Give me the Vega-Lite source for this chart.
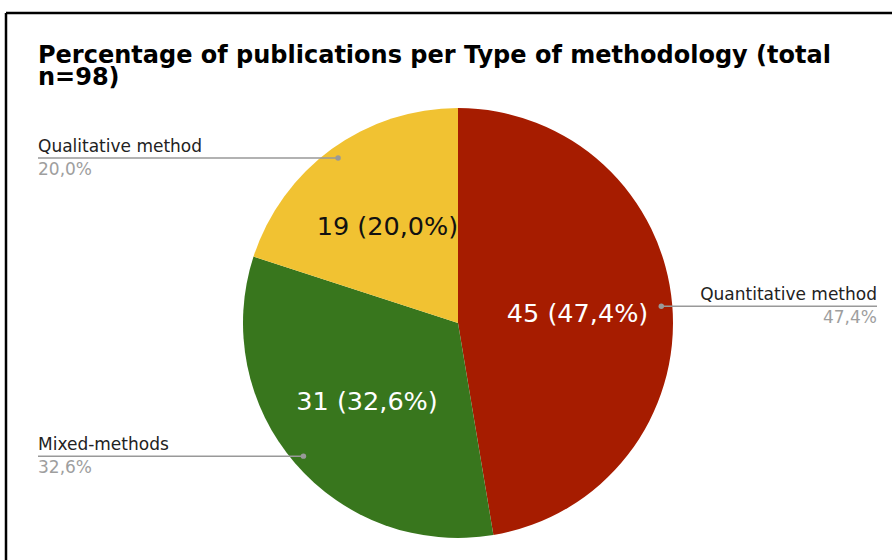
{
  "$schema": "https://vega.github.io/schema/vega-lite/v6.json",
  "width": 886,
  "height": 547,
  "autosize": {"type": "none"},
  "padding": {"left": 6, "top": 13, "right": 0, "bottom": 0},
  "background": "white",
  "config": {
    "font": "DejaVu Sans",
    "view": {"stroke": "#000000", "strokeWidth": 2.5, "strokeDash": [886, 1433, 547, 0]}
  },
  "title": {
    "text": ["Percentage of publications per Type of methodology (total", "n=98)"],
    "orient": "top",
    "anchor": "start",
    "frame": "group",
    "baseline": "top",
    "offset": -77,
    "dx": 32,
    "font": "DejaVu Sans",
    "fontSize": 24,
    "fontWeight": "bold",
    "color": "#000000",
    "lineHeight": 22
  },
  "data": {
    "values": [
      {"method": "Quantitative method", "count": 45},
      {"method": "Mixed-methods", "count": 31},
      {"method": "Qualitative method", "count": 19}
    ]
  },
  "transform": [
    {"joinaggregate": [{"op": "sum", "field": "count", "as": "total"}]},
    {"window": [{"op": "sum", "field": "count", "as": "cum"}], "sort": [{"field": "count", "order": "descending"}], "frame": [null, 0]},
    {"calculate": "(datum.cum - datum.count / 2) / datum.total * 2 * PI", "as": "mid"},
    {"calculate": "204 * sin(datum.mid)", "as": "px"},
    {"calculate": "204 * cos(datum.mid)", "as": "py"},
    {"calculate": "datum.px > 0 ? 419 : -420", "as": "ex"},
    {"calculate": "replace(format(datum.count / datum.total * 100, '.1f'), '.', ',') + '%'", "as": "pct"},
    {"calculate": "datum.count + ' (' + datum.pct + ')'", "as": "label"}
  ],
  "layer": [
    {
      "mark": {"type": "arc", "outerRadius": 215},
      "encoding": {
        "x": {"datum": 0, "type": "quantitative", "scale": {"domain": [-452, 434], "nice": false, "zero": false}, "axis": null},
        "y": {"datum": 0, "type": "quantitative", "scale": {"domain": [-237, 310], "nice": false, "zero": false}, "axis": null},
        "theta": {"field": "count", "type": "quantitative", "stack": true},
        "order": {"field": "count", "sort": "descending"},
        "color": {
          "field": "method",
          "type": "nominal",
          "scale": {"domain": ["Quantitative method", "Mixed-methods", "Qualitative method"], "range": ["#a61c00", "#38761d", "#f1c232"]},
          "legend": null
        }
      }
    },
    {
      "mark": {"type": "text", "radius": 120, "fontSize": 25.5, "align": "center", "baseline": "middle", "font": "DejaVu Sans", "dy": 1},
      "encoding": {
        "x": {"datum": 0, "type": "quantitative"},
        "y": {"datum": 0, "type": "quantitative"},
        "theta": {"field": "count", "type": "quantitative", "stack": true},
        "order": {"field": "count", "sort": "descending"},
        "text": {"field": "label", "type": "nominal"},
        "color": {"condition": {"test": "datum.method === 'Qualitative method'", "value": "#111111"}, "value": "#ffffff"}
      }
    },
    {
      "mark": {"type": "rule", "color": "#999999", "strokeWidth": 1.5},
      "encoding": {
        "x": {"field": "px", "type": "quantitative"},
        "x2": {"field": "ex"},
        "y": {"field": "py", "type": "quantitative"}
      }
    },
    {
      "mark": {"type": "point", "filled": true, "size": 30, "color": "#999999", "opacity": 1},
      "encoding": {
        "x": {"field": "px", "type": "quantitative"},
        "y": {"field": "py", "type": "quantitative"}
      }
    },
    {
      "mark": {"type": "text", "fontSize": 17, "dy": -6, "baseline": "alphabetic", "color": "#222222", "align": {"expr": "datum.ex > 0 ? 'right' : 'left'"}},
      "encoding": {
        "x": {"field": "ex", "type": "quantitative"},
        "y": {"field": "py", "type": "quantitative"},
        "text": {"field": "method", "type": "nominal"}
      }
    },
    {
      "mark": {"type": "text", "fontSize": 17, "dy": 17, "baseline": "alphabetic", "color": "#9e9e9e", "align": {"expr": "datum.ex > 0 ? 'right' : 'left'"}},
      "encoding": {
        "x": {"field": "ex", "type": "quantitative"},
        "y": {"field": "py", "type": "quantitative"},
        "text": {"field": "pct", "type": "nominal"}
      }
    }
  ]
}
